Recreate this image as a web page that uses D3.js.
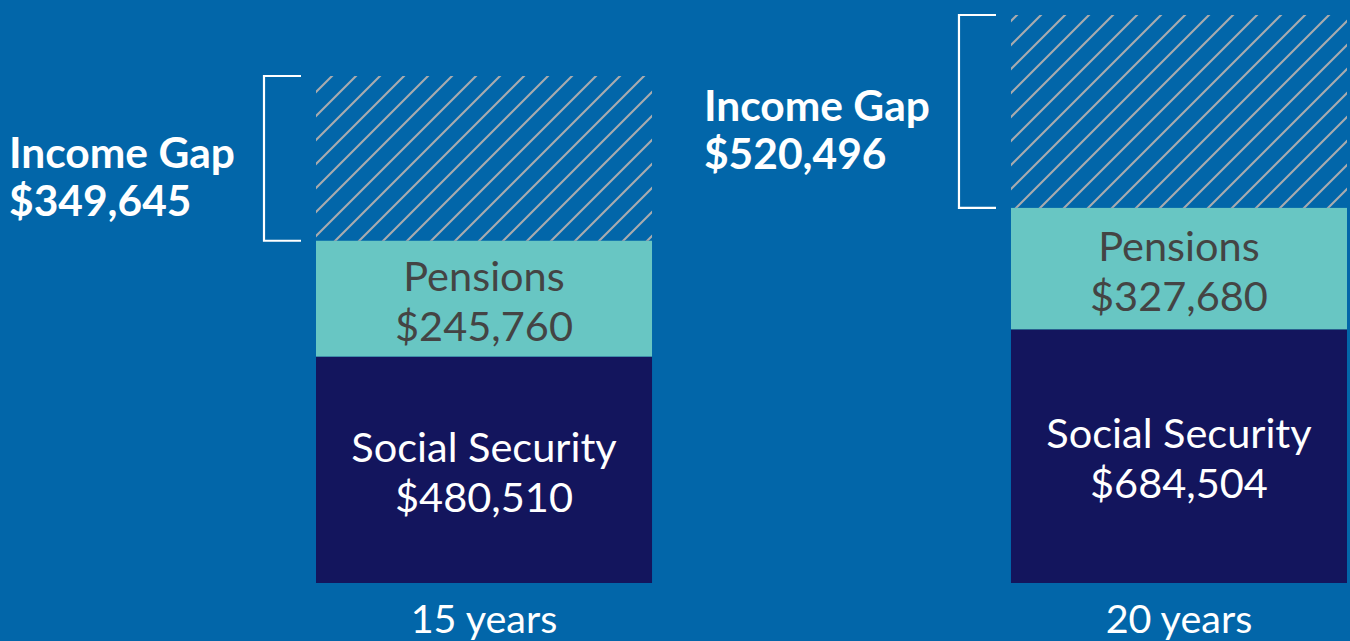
<!DOCTYPE html>
<html>
<head>
<meta charset="utf-8">
<script src="https://cdn.jsdelivr.net/npm/d3@7"></script>
<style>
    html, body { margin: 0; padding: 0; background: #0266a9; }
    svg { display: block; font-family: Lato, "Noto Sans", sans-serif; }
    .seg-label { text-anchor: middle; font-size: 41.5px; }
    .gap-label { font-size: 42.5px; font-weight: 700; fill: #fff; }
    .cat-label { text-anchor: middle; font-size: 39.5px; fill: #fff; }
</style>
</head>
<body>
<svg id="chart" width="1350" height="641"></svg>
<script>
// Chart values
const categories = ['15 years', '20 years'];
const socialSecurity = [480510, 684504];
const pensions = [245760, 327680];
const incomeGap = [349645, 520496];

const seriesKeys = ['socialSecurity', 'pensions', 'incomeGap'];
const seriesNames = ['Social Security', 'Pensions', 'Income Gap'];

// Layout (each bar has its own height, so its own y scale)
const width = 1350, height = 641;
const baseline = 583;
const barTops = [76, 15];

const colours = {
    socialSecurity: '#13155d',
    pensions: '#68c6c3',
    incomeGap: 'url(#hatch)'
};
const textColours = {
    socialSecurity: '#ffffff',
    pensions: '#444444'
};

const rows = categories.map((c, i) => ({
    category: c,
    socialSecurity: socialSecurity[i],
    pensions: pensions[i],
    incomeGap: incomeGap[i]
}));

const stacked = d3.stack().keys(seriesKeys)(rows);
const fmt = v => '$' + d3.format(',')(v);

const svg = d3.select('#chart');

// Diagonal hatch for the income gap
const pattern = svg.append('defs').append('pattern')
    .attr('id', 'hatch')
    .attr('patternUnits', 'userSpaceOnUse')
    .attr('width', 24)
    .attr('height', 24);
pattern.append('path')
    .attr('d', 'M0,24L24,0M-6,6L6,-6M18,30L30,18')
    .attr('stroke', '#a9abae')
    .attr('stroke-width', 2.1);

// x position of each bar
const xScale = d3.scaleBand()
    .domain(categories)
    .range([316, 1347])
    .paddingInner(0.5165)
    .paddingOuter(0);

rows.forEach((row, i) => {
    const total = d3.sum(seriesKeys, k => row[k]);
    const yScale = d3.scaleLinear()
        .domain([0, total])
        .range([baseline, barTops[i]]);

    const g = svg.append('g').attr('class', 'bar-group');
    const x0 = xScale(row.category);
    const bw = xScale.bandwidth();
    const cx = x0 + bw / 2;

    // Segments of this bar
    const segs = stacked.map((s, k) => ({ key: s.key, name: seriesNames[k], d: s[i] }));

    g.selectAll('rect')
        .data(segs)
        .join('rect')
            .attr('x', x0)
            .attr('width', bw)
            .attr('y', s => yScale(s.d[1]))
            .attr('height', s => yScale(s.d[0]) - yScale(s.d[1]))
            .attr('fill', s => colours[s.key]);

    // Labels inside the solid segments
    const inside = g.selectAll('text.seg-label')
        .data(segs.filter(s => s.key !== 'incomeGap'))
        .join('text')
            .attr('class', 'seg-label')
            .attr('fill', s => textColours[s.key]);
    inside.append('tspan')
        .attr('x', cx)
        .attr('y', s => (yScale(s.d[0]) + yScale(s.d[1])) / 2 - 8)
        .text(s => s.name);
    inside.append('tspan')
        .attr('x', cx)
        .attr('y', s => (yScale(s.d[0]) + yScale(s.d[1])) / 2 + 42)
        .text(s => fmt(s.d[1] - s.d[0]));

    // Bracket and label for the income gap
    const gap = segs.find(s => s.key === 'incomeGap');
    const gTop = yScale(gap.d[1]), gBot = yScale(gap.d[0]);
    const bl = x0 - 52, br = x0 - 15;
    g.append('path')
        .attr('d', `M${br},${gTop}H${bl}V${gBot}H${br}`)
        .attr('fill', 'none')
        .attr('stroke', '#ffffff')
        .attr('stroke-width', 2.2);

    const gapText = g.append('text').attr('class', 'gap-label');
    const gMid = (gTop + gBot) / 2;
    gapText.append('tspan')
        .attr('x', bl - 255)
        .attr('y', gMid + 10)
        .text(gap.name);
    gapText.append('tspan')
        .attr('x', bl - 255)
        .attr('y', gMid + 58)
        .text(fmt(gap.d[1] - gap.d[0]));

    // Category label under the bar
    g.append('text')
        .attr('class', 'cat-label')
        .attr('x', cx)
        .attr('y', 633)
        .text(row.category);
});
</script>
</body>
</html>
